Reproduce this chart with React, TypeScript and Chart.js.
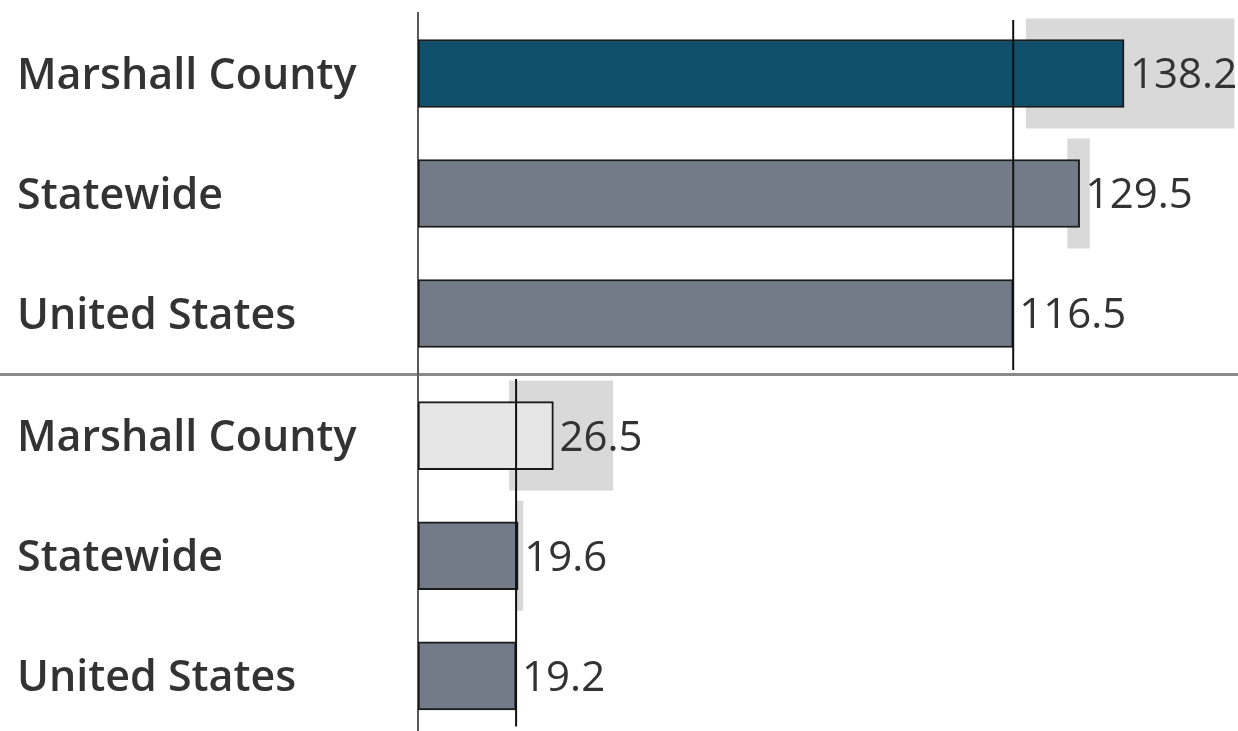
import React, { useEffect, useRef } from 'react';
import { Chart, registerables } from 'chart.js';

Chart.register(...registerables);

const categories = ['Marshall County', 'Statewide', 'United States'];

const topValues = [138.2, 129.5, 116.5];
const topLow = [119.0, 127.1, null];
const topHigh = [159.8, 131.5, null];
const topColors = ['#0f4f6b', '#737b88', '#737b88'];
const topReference = 116.5;

const bottomValues = [26.5, 19.6, 19.2];
const bottomLow = [17.8, 19.3, null];
const bottomHigh = [38.2, 20.6, null];
const bottomColors = ['#e6e6e6', '#737b88', '#737b88'];
const bottomReference = 19.2;

const xMax = 160.5;

const LABEL_FONT = '"Open Sans", "Noto Sans", sans-serif';

type PanelOpts = {
  low: (number | null)[];
  high: (number | null)[];
  values: number[];
  reference: number;
  refTopOffset: number;
  refBottomOffset: number;
  axisTop: number;
};

function makePlugin(o: PanelOpts) {
  return {
    id: 'panelDecor',
    beforeDatasetsDraw(chart: any) {
      const ctx = chart.ctx;
      const xs = chart.scales.x;
      const ys = chart.scales.y;
      ctx.save();
      // confidence interval boxes
      ctx.fillStyle = '#d9d9d9';
      o.low.forEach((lo, i) => {
        const hi = o.high[i];
        if (lo == null || hi == null) return;
        const x0 = xs.getPixelForValue(lo);
        const x1 = xs.getPixelForValue(hi);
        const yc = ys.getPixelForValue(i);
        ctx.fillRect(x0, yc - 55, x1 - x0, 110);
      });
      // left axis line
      ctx.strokeStyle = '#5a5a5a';
      ctx.lineWidth = 2;
      ctx.beginPath();
      ctx.moveTo(chart.chartArea.left, o.axisTop);
      ctx.lineTo(chart.chartArea.left, chart.height);
      ctx.stroke();
      // category labels
      ctx.fillStyle = '#333333';
      ctx.font = `600 43px ${LABEL_FONT}`;
      ctx.textAlign = 'left';
      ctx.textBaseline = 'middle';
      (chart.data.labels as string[]).forEach((lab, i) => {
        ctx.fillText(lab, ys.left, ys.getPixelForValue(i) + 3);
      });
      ctx.restore();
    },
    afterDatasetsDraw(chart: any) {
      const ctx = chart.ctx;
      const xs = chart.scales.x;
      const ys = chart.scales.y;
      ctx.save();
      // reference line
      const rx = xs.getPixelForValue(o.reference);
      ctx.strokeStyle = '#111111';
      ctx.lineWidth = 2;
      ctx.beginPath();
      ctx.moveTo(rx, ys.getPixelForValue(0) - o.refTopOffset);
      ctx.lineTo(rx, ys.getPixelForValue(o.values.length - 1) + o.refBottomOffset);
      ctx.stroke();
      // value labels
      ctx.fillStyle = '#333333';
      ctx.font = `400 42px ${LABEL_FONT}`;
      ctx.textAlign = 'left';
      ctx.textBaseline = 'middle';
      o.values.forEach((v, i) => {
        const x = xs.getPixelForValue(v) + 6;
        const y = ys.getPixelForValue(i) + 3;
        ctx.fillText(v.toFixed(1), x, y);
      });
      ctx.restore();
    },
  };
}

function buildConfig(values: number[], colors: string[], padTop: number, padBottom: number, plugin: any) {
  return {
    type: 'bar' as const,
    data: {
      labels: categories,
      datasets: [
        {
          data: values,
          backgroundColor: colors,
          borderColor: '#1a1a1a',
          borderWidth: 2,
          borderSkipped: false,
          barThickness: 68,
        },
      ],
    },
    options: {
      indexAxis: 'y' as const,
      responsive: false,
      animation: false as const,
      layout: { padding: { left: 17, right: 0, top: padTop, bottom: padBottom } },
      plugins: { legend: { display: false }, tooltip: { enabled: false } },
      scales: {
        x: { display: false, min: 0, max: xMax },
        y: {
          grid: { display: false },
          border: { display: false },
          ticks: { display: false },
          afterFit: (scale: any) => {
            scale.width = 401;
          },
        },
      },
    },
    plugins: [plugin],
  };
}

export default function App() {
  const topRef = useRef<HTMLCanvasElement | null>(null);
  const bottomRef = useRef<HTMLCanvasElement | null>(null);

  useEffect(() => {
    document.body.style.margin = '0';
    document.body.style.overflow = 'hidden';
    const top = new Chart(
      topRef.current as HTMLCanvasElement,
      buildConfig(
        topValues,
        topColors,
        13.5,
        1.5,
        makePlugin({
          low: topLow,
          high: topHigh,
          values: topValues,
          reference: topReference,
          refTopOffset: 53.5,
          refBottomOffset: 56.5,
          axisTop: 12,
        })
      ) as any
    );
    const bottom = new Chart(
      bottomRef.current as HTMLCanvasElement,
      buildConfig(
        bottomValues,
        bottomColors,
        0.5,
        0,
        makePlugin({
          low: bottomLow,
          high: bottomHigh,
          values: bottomValues,
          reference: bottomReference,
          refTopOffset: 56.5,
          refBottomOffset: 50.5,
          axisTop: 0,
        })
      ) as any
    );
    return () => {
      top.destroy();
      bottom.destroy();
    };
  }, []);

  return (
    <div style={{ position: 'relative', width: 1238, height: 731, overflow: 'hidden', background: '#ffffff' }}>
      <div style={{ position: 'absolute', left: 0, top: 373, width: 1238, height: 3, background: '#8a8a8a' }} />
      <div style={{ position: 'absolute', left: 0, top: 0, width: 1238, height: 375 }}>
        <canvas ref={topRef} width={1238} height={375} style={{ display: 'block' }} />
      </div>
      <div style={{ position: 'absolute', left: 0, top: 375, width: 1238, height: 356, overflow: 'hidden' }}>
        <canvas ref={bottomRef} width={1238} height={361} style={{ display: 'block' }} />
      </div>
    </div>
  );
}
